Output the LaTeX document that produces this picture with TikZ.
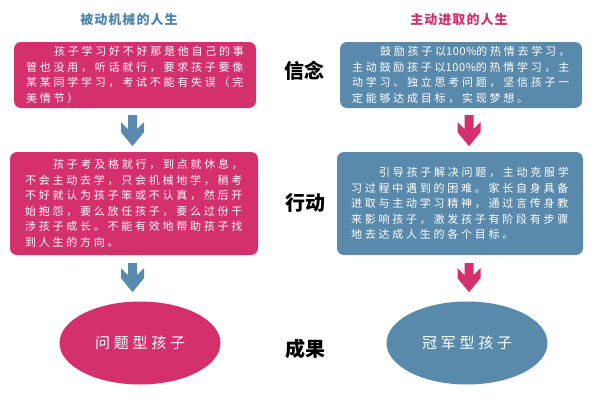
\documentclass[tikz,border=0pt]{standalone}
\usepackage{fontspec}
\newfontfamily\cjk[LetterSpace=25]{Noto Sans CJK SC}
\newfontfamily\cjkdig[LetterSpace=6]{Noto Sans CJK SC}
\newfontfamily\cjkhead[LetterSpace=8]{Noto Sans CJK SC}
\newfontfamily\cjklab{Noto Sans CJK SC}
\newcommand\pct{{\cjkdig 100\%}}
\usetikzlibrary{shapes.geometric,calc}
\definecolor{rose}{RGB}{213,48,110}
\definecolor{steel}{RGB}{89,138,172}
\definecolor{headblue}{RGB}{78,134,168}
\tikzset{
  txtbox/.style={rounded corners=7pt, align=left, text=white, inner sep=0pt,
    font=\cjk\fontsize{11}{15.5}\selectfont},
  oval/.style={ellipse, minimum width=161pt, minimum height=83pt, inner sep=0pt,
    text=white, font=\cjk\fontsize{15}{18}\selectfont},
  headtxt/.style={font=\cjkhead\bfseries\fontsize{13}{15}\selectfont, inner sep=0pt},
  sidelab/.style={font=\cjklab\bfseries\fontsize{20}{24}\selectfont, inner sep=0pt, text=black},
  pics/chevarrow/.style 2 args={code={
    \fill[#2] (-4.5,0) -- (4.5,0) -- (4.5,#1-17) -- (11.5,#1-24) -- (11.5,#1-14)
      -- (0,#1) -- (-11.5,#1-14) -- (-11.5,#1-24) -- (-4.5,#1-17) -- cycle;}}
}
\begin{document}
\begin{tikzpicture}[x=1pt,y=-1pt]
\useasboundingbox[fill=white] (0,0) rectangle (595,410);

\node[headtxt, text=headblue] (h1) at (129,20) {被动机械的人生};
\node[headtxt, text=rose] (h2) at (459,20) {主动进取的人生};

\node[txtbox, fill=rose, minimum width=242pt, minimum height=66pt] (L1) at (135,75)
{\hspace*{28pt}孩子学习好不好那是他自己的事\\管也没用，听话就行，要求孩子要像\\某某同学学习，考试不能有失误（完\\美情节）};

\node[txtbox, fill=steel, minimum width=242pt, minimum height=66pt] (R1) at (461,75)
{\hspace*{28pt}鼓励孩子以\pct 的热情去学习，\\主动鼓励孩子以\pct 的热情学习，主\\动学习、独立思考问题，坚信孩子一\\定能够达成目标，实现梦想。};

\node[txtbox, fill=rose, minimum width=248pt, minimum height=103pt] (L2) at (134,203.5)
{\hspace*{28pt}孩子考及格就行，到点就休息，\\不会主动去学，只会机械地学，稍考\\不好就认为孩子笨或不认真，然后开\\始抱怨，要么放任孩子，要么过份干\\涉孩子成长。不能有效地帮助孩子找\\到人生的方向。};

\node[txtbox, fill=steel, minimum width=246pt, minimum height=103pt] (R2) at (460,203.5)
{\hspace*{28pt}引导孩子解决问题，主动克服学\\习过程中遇到的困难。家长自身具备\\进取与主动学习精神，通过言传身教\\来影响孩子，激发孩子有阶段有步骤\\地去达成人生的各个目标。};

\node[oval, fill=rose] (E1) at (140,343) {问题型孩子};
\node[oval, fill=steel] (E2) at (467,343) {冠军型孩子};

\node[sidelab] (s1) at (304,71) {信念};
\node[sidelab] (s2) at (305,203) {行动};
\node[sidelab] (s3) at (305,349) {成果};

\coordinate (a1) at ($(L1.south)+(-2.5,7)$);
\coordinate (a2) at ($(R1.south)+(8,7)$);
\coordinate (a3) at ($(L2.south)+(-1.5,8)$);
\coordinate (a4) at ($(R2.south)+(9,8)$);
\pic at (a1) {chevarrow={31}{steel}};
\pic at (a2) {chevarrow={31}{rose}};
\pic at (a3) {chevarrow={29}{steel}};
\pic at (a4) {chevarrow={29}{rose}};
\end{tikzpicture}
\end{document}
